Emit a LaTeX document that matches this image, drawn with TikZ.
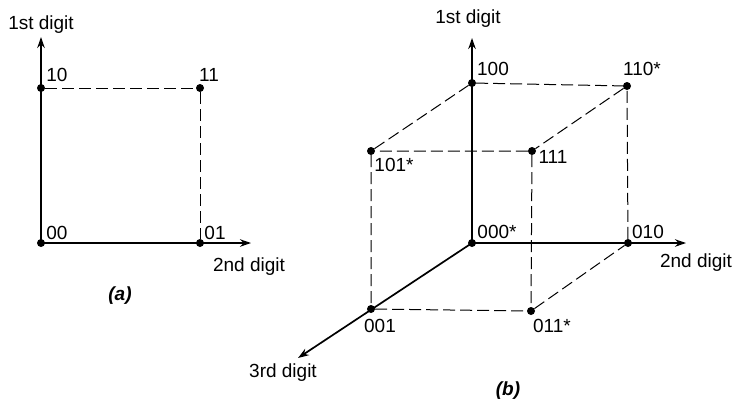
\documentclass[tikz,border=0pt]{standalone}
\usepackage{fontspec}
\setmainfont{Liberation Sans}
\usetikzlibrary{arrows.meta}
\begin{document}
\begin{tikzpicture}[x=1pt,y=-1pt,
  dot/.style={circle,fill=black,inner sep=0pt,minimum size=8pt},
  lbl/.style={inner sep=0pt,font=\fontsize{19}{21}\selectfont},
  axis/.style={line width=1.7pt,-{Stealth[length=11pt,width=7.5pt]}},
  edge/.style={line width=1pt,dash pattern=on 12pt off 5pt}]
\useasboundingbox (0,0) rectangle (735,400);
% ---- (a)
\node[dot] (a00) at (41,243) {};
\node[dot] (a10) at (41,88) {};
\node[dot] (a11) at (200,88) {};
\node[dot] (a01) at (200,243) {};
\coordinate (aY) at (41,37);
\coordinate (aX) at (251,243);
\draw[axis] (a00.center) -- (aY);
\draw[axis] (a00.center) -- (aX);
\draw[edge] (a10) -- (a11) -- (a01);
\node[lbl] (la1) at (41,25) {1st digit};
\node[lbl] (la2) at (249,267) {2nd digit};
\node[lbl] (l10) at (57,75) {10};
\node[lbl] (l11) at (209,75) {11};
\node[lbl] (l00) at (57,233) {00};
\node[lbl] (l01) at (215,233) {01};
\node[lbl] (lab) at (120,296) {\itshape\bfseries (a)};
% ---- (b)
\node[dot] (b000) at (472,243) {};
\node[dot] (b010) at (628,243) {};
\node[dot] (b001) at (371,309) {};
\node[dot] (b011) at (531,311) {};
\node[dot] (b100) at (472,83) {};
\node[dot] (b110) at (627,86) {};
\node[dot] (b101) at (371,151) {};
\node[dot] (b111) at (532,151) {};
\coordinate (bY) at (472,38);
\coordinate (bX) at (686,243);
\coordinate (bZ) at (298,358);
\draw[edge] (b100) -- (b110) -- (b111) -- (b101) -- (b100);
\draw[edge] (b101) -- (b001) -- (b011) -- (b010) -- (b110);
\draw[edge] (b111) -- (b011);
\draw[axis] (b000.center) -- (bY);
\draw[axis] (b000.center) -- (bX);
\draw[axis] (b000.center) -- (bZ);
\node[lbl] (lb1) at (468,19) {1st digit};
\node[lbl] (lb2) at (696,263) {2nd digit};
\node[lbl] (lb3) at (283,373) {3rd digit};
\node[lbl] (l100) at (493,69) {100};
\node[lbl] (l110) at (642,69) {110*};
\node[lbl] (l101) at (394,165) {101*};
\node[lbl] (l111) at (553,157) {111};
\node[lbl] (l000) at (497,232) {000*};
\node[lbl] (l010) at (648,232) {010};
\node[lbl] (l001) at (380,326) {001};
\node[lbl] (l011) at (552,326) {011*};
\node[lbl] (lbb) at (508,391) {\itshape\bfseries (b)};
\end{tikzpicture}
\end{document}
